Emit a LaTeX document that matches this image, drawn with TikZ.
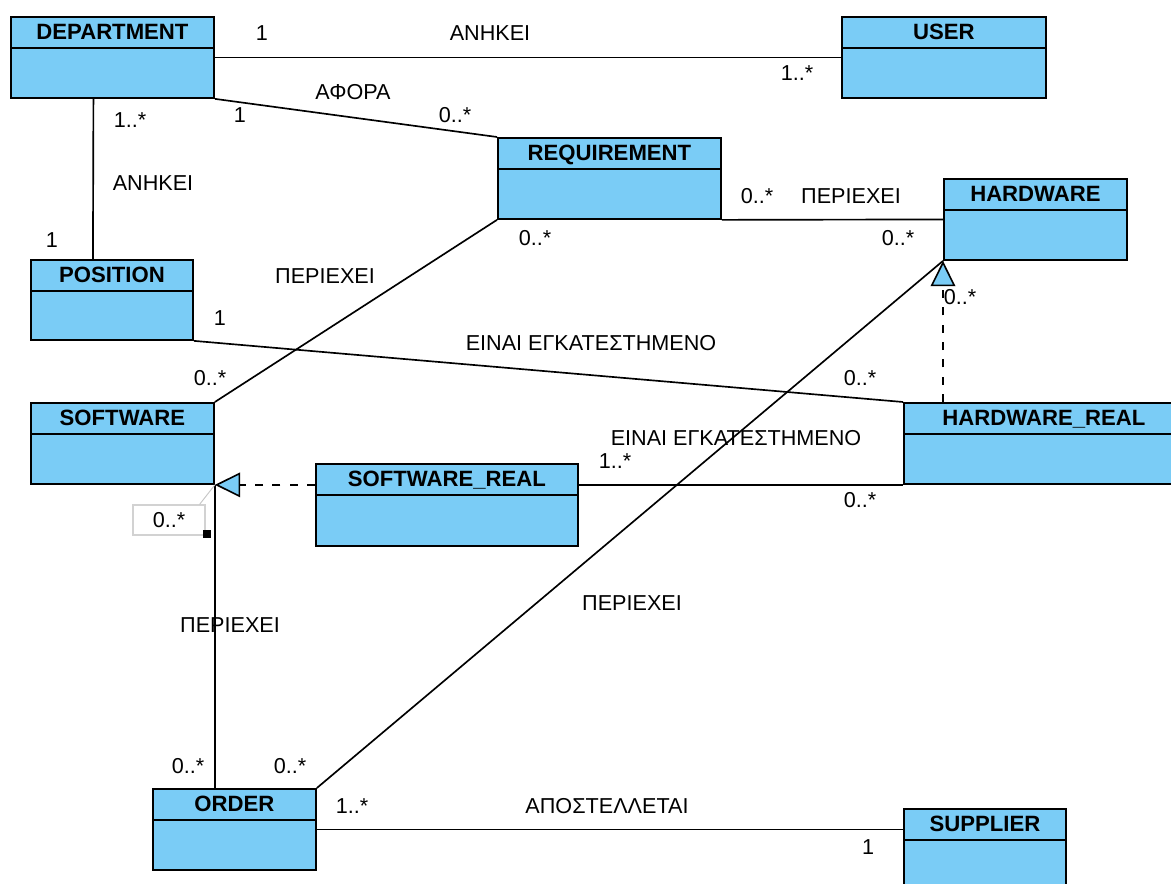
\documentclass[tikz,border=0pt]{standalone}
\usepackage{fontspec}
\setmainfont{Liberation Sans}
\usepackage{tikz}
\usetikzlibrary{calc}
\usetikzlibrary{arrows.meta}
\definecolor{clsblue}{RGB}{122,204,246}
\tikzset{cls/.style={draw, line width=1.4pt, fill=clsblue, anchor=north west, inner sep=0pt,
    path picture={\draw[line width=1.4pt] ([yshift=-23pt]path picture bounding box.north west) -- ([yshift=-23pt]path picture bounding box.north east);},
    label={[font=\bfseries\fontsize{16.6}{19}\selectfont, anchor=center, yshift=-11.9pt, inner sep=0pt, text height=11.9pt, text depth=0pt]north:#1}}}
\tikzset{size/.style 2 args={minimum width=#1*0.75pt, minimum height=#2*0.75pt}}
\tikzset{txt/.style={font=\fontsize{16.2}{19}\selectfont, inner sep=1pt}}
\tikzset{realize/.style={dash pattern=on 6pt off 7pt, -{Triangle[fill=clsblue, length=19pt, width=18.5pt, line width=1.2pt]}}}

\begin{document}
\begin{tikzpicture}[x=0.75pt, y=-0.75pt, line width=1.25pt]
                    \useasboundingbox (0,0) rectangle (1171,884);
                    \clip (0,0) rectangle (1171,884);

                    \node[cls=DEPARTMENT, size={203}{81}] (dep) at (10,16) {};
                    \node[cls=USER, size={204}{81}] (user) at (841,16) {};
                    \node[cls=REQUIREMENT, size={223}{81}] (req) at (497,137) {};
                    \node[cls=HARDWARE, size={183}{81}] (hw) at (943,178) {};
                    \node[cls=POSITION, size={162}{80}] (pos) at (30,259) {};
                    \node[cls=SOFTWARE, size={183}{81}] (sw) at (30,402) {};
                    \node[cls=SOFTWARE\_REAL, size={262}{82}] (swr) at (315,463) {};
                    \node[cls=HARDWARE\_REAL, size={280}{81}] (hwr) at (903,402) {};
                    \node[cls=ORDER, size={163}{81}] (order) at (152,788) {};
                    \node[cls=SUPPLIER, size={162}{81}] (sup) at (903,808) {};

                    \draw (dep.east) -- (user.west);
                    \draw (dep.south east) -- (req.north west);
                    \draw ($(dep.south)+(-19,0)$) -- ($(pos.north)+(-19,0)$);
                    \draw (req.south east) -- (hw.west);
                    \draw (req.south west) -- (sw.north east);
                    \draw (pos.south east) -- (hwr.north west);
                    \draw[realize] (hwr.north -| hw.south west) -- (hw.south west);
                    \draw[realize] (swr.west |- sw.south east) -- (sw.south east);
                    \draw (swr.east |- hwr.south west) -- (hwr.south west);
                    \draw (sw.south east) -- (sw.south east |- order.north);
                    \draw (order.north east) -- (hw.south west);
                    \draw (order.east) -- (order.east -| sup.west);

                    \node[txt] (dep-user-a) at (262,33) {1};
                    \node[txt] (dep-user) at (490,33) {ΑΝΗΚΕΙ};
                    \node[txt] (dep-user-b) at (797,73) {1..*};
                    \node[txt] (dep-req) at (353,92) {ΑΦΟΡΑ};
                    \node[txt] (dep-req-a) at (240,115) {1};
                    \node[txt] (dep-req-b) at (455,115) {0..*};
                    \node[txt] (dep-pos-a) at (130,120) {1..*};
                    \node[txt] (dep-pos) at (153,183) {ΑΝΗΚΕΙ};
                    \node[txt] (dep-pos-b) at (52,240) {1};
                    \node[txt] (req-hw-a) at (757,196) {0..*};
                    \node[txt] (req-hw) at (851,196) {ΠΕΡΙΕΧΕΙ};
                    \node[txt] (req-hw-b) at (898,238) {0..*};
                    \node[txt] (req-sw-a) at (535,238) {0..*};
                    \node[txt] (req-sw) at (325,276) {ΠΕΡΙΕΧΕΙ};
                    \node[txt] (req-sw-b) at (210,378) {0..*};
                    \node[txt] (pos-hwr-a) at (220,318) {1};
                    \node[txt] (pos-hwr) at (591,343) {ΕΙΝΑΙ ΕΓΚΑΤΕΣΤΗΜΕΝΟ};
                    \node[txt] (pos-hwr-b) at (860,378) {0..*};
                    \node[txt] (hwr-hw) at (960,297) {0..*};
                    \node[txt] (swr-hwr) at (736,438) {ΕΙΝΑΙ ΕΓΚΑΤΕΣΤΗΜΕΝΟ};
                    \node[txt] (swr-hwr-a) at (615,461) {1..*};
                    \node[txt] (swr-hwr-b) at (860,500) {0..*};
                    \node[txt, draw=gray!35, line width=0.8pt, size={72}{30}] (sw-order-a) at (169,520) {0..*};
                    \node[fill, inner sep=0pt, minimum size=5.5pt] (sw-order-pin) at (207,534) {};
                    \draw[gray!45, line width=0.7pt] ($(sw-order-a.north east)+(-6,0)$) -- (sw.south east);
                    \node[txt] (sw-order) at (230,625) {ΠΕΡΙΕΧΕΙ};
                    \node[txt] (sw-order-b) at (188,766) {0..*};
                    \node[txt] (order-hw) at (632,603) {ΠΕΡΙΕΧΕΙ};
                    \node[txt] (order-hw-a) at (290,766) {0..*};
                    \node[txt] (order-sup-a) at (352,806) {1..*};
                    \node[txt] (order-sup) at (607,806) {ΑΠΟΣΤΕΛΛΕΤΑΙ};
                    \node[txt] (order-sup-b) at (868,847) {1};
                \end{tikzpicture}
\end{document}
